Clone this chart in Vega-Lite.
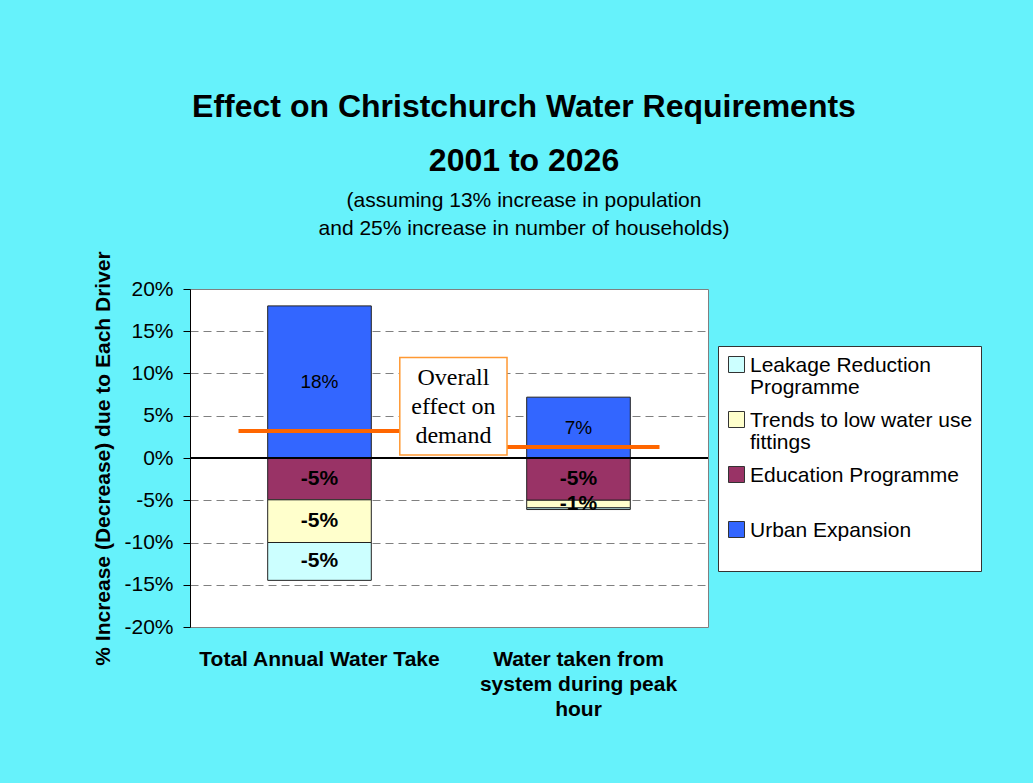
{
  "$schema": "https://vega.github.io/schema/vega-lite/v6.json",
  "width": 518,
  "height": 338,
  "autosize": {"type": "none"},
  "padding": {"left": 190, "top": 289, "right": 325, "bottom": 156},
  "background": "#66f2fb",
  "config": {
    "font": "Liberation Sans",
    "view": {"fill": "white", "stroke": "#808080", "strokeWidth": 1},
    "axis": {"labelFont": "Liberation Sans", "titleFont": "Liberation Sans", "labelColor": "black", "titleColor": "black"},
    "text": {"font": "Liberation Sans"}
  },
  "title": {
    "text": ["Effect on Christchurch Water Requirements", "2001 to 2026"],
    "subtitle": ["(assuming 13% increase in population", "and 25% increase in number of households)"],
    "anchor": "middle",
    "frame": "group",
    "dx": 75,
    "font": "Liberation Sans",
    "fontSize": 32,
    "fontWeight": "bold",
    "color": "black",
    "lineHeight": 54,
    "subtitleFont": "Liberation Sans",
    "subtitleFontSize": 21,
    "subtitleColor": "black",
    "subtitleLineHeight": 28,
    "subtitlePadding": 12,
    "offset": 11
  },
  "datasets": {
    "drivers": [
      {"measure": "Total Annual Water Take", "driver": "Urban Expansion", "value": 0.18, "label": "18%", "k": 1},
      {"measure": "Total Annual Water Take", "driver": "Education Programme", "value": -0.0495, "label": "-5%", "k": 2},
      {"measure": "Total Annual Water Take", "driver": "Trends to low water use fittings", "value": -0.0505, "label": "-5%", "k": 3},
      {"measure": "Total Annual Water Take", "driver": "Leakage Reduction Programme", "value": -0.0448, "label": "-5%", "k": 4},
      {"measure": "Water taken from system during peak hour", "driver": "Urban Expansion", "value": 0.072, "label": "7%", "k": 1},
      {"measure": "Water taken from system during peak hour", "driver": "Education Programme", "value": -0.05, "label": "-5%", "k": 2},
      {"measure": "Water taken from system during peak hour", "driver": "Trends to low water use fittings", "value": -0.009, "label": "-1%", "k": 3},
      {"measure": "Water taken from system during peak hour", "driver": "Leakage Reduction Programme", "value": -0.002, "label": "", "k": 4}
    ],
    "overall": [
      {"measure": "Total Annual Water Take", "overall": 0.032},
      {"measure": "Water taken from system during peak hour", "overall": 0.013}
    ]
  },
  "resolve": {"scale": {"x": "independent"}, "axis": {"x": "independent"}},
  "layer": [
    {
      "data": {"name": "drivers"},
      "transform": [
        {"stack": "value", "groupby": ["measure"], "sort": [{"field": "k", "order": "ascending"}], "as": ["v0", "v1"]},
        {"calculate": "(datum.v0 + datum.v1) / 2", "as": "mid"}
      ],
      "encoding": {
        "x": {
          "field": "measure",
          "type": "nominal",
          "sort": ["Total Annual Water Take", "Water taken from system during peak hour"],
          "scale": {"paddingInner": 0.6, "paddingOuter": 0.3},
          "axis": {
            "title": null,
            "labelAngle": 0,
            "labelFontSize": 21,
            "labelFontWeight": "bold",
            "labelPadding": 21,
            "labelLineHeight": 25,
            "labelLimit": 400,
            "domain": false,
            "ticks": false,
            "grid": false,
            "labelExpr": "datum.value == 'Water taken from system during peak hour' ? ['Water taken from', 'system during peak', 'hour'] : datum.value"
          }
        }
      },
      "layer": [
        {
          "mark": {"type": "bar", "stroke": "#222222", "strokeWidth": 1},
          "encoding": {
            "y": {
              "field": "v0",
              "type": "quantitative",
              "scale": {"domain": [-0.2, 0.2], "nice": false, "zero": false},
              "axis": {
                "title": "% Increase (Decrease) due to Each Driver",
                "titleFontSize": 21,
                "titleFontWeight": "bold",
                "titlePadding": 10,
                "values": [-0.2, -0.15, -0.1, -0.05, 0, 0.05, 0.1, 0.15, 0.2],
                "labelExpr": "round(datum.value * 100) + '%'",
                "labelFontSize": 21,
                "labelPadding": 10,
                "tickSize": 7,
                "tickColor": "black",
                "domainColor": "black",
                "gridColor": "#808080",
                "gridDash": [8, 5],
                "gridWidth": 1
              }
            },
            "y2": {"field": "v1"},
            "color": {
              "field": "driver",
              "type": "nominal",
              "scale": {
                "domain": ["Leakage Reduction Programme", "Trends to low water use fittings", "Education Programme", "Urban Expansion"],
                "range": ["#CCFFFF", "#FFFFCC", "#993366", "#3366FF"]
              },
              "legend": {
                "title": null,
                "orient": "none",
                "legendX": 528,
                "legendY": 57,
                "fillColor": "white",
                "strokeColor": "#333333",
                "padding": 8,
                "labelFont": "Liberation Sans",
                "labelFontSize": 21,
                "labelColor": "black",
                "labelLimit": 400,
                "labelOffset": 3,
                "labelBaseline": "alphabetic",
                "rowPadding": 11,
                "symbolType": "square",
                "symbolSize": 256,
                "symbolStrokeColor": "#333333",
                "symbolStrokeWidth": 1,
                "symbolOpacity": 1,
                "labelExpr": "datum.label == 'Leakage Reduction Programme' ? ['Leakage Reduction', 'Programme'] : datum.label == 'Trends to low water use fittings' ? ['Trends to low water use', 'fittings'] : [datum.label, ' ']",
                "encode": {"labels": {"update": {"lineHeight": {"value": 22}, "dy": {"value": 7}}}}
              }
            },
            "order": {"field": "k"}
          }
        },
        {
          "transform": [{"filter": "datum.value > 0"}],
          "mark": {"type": "text", "fontSize": 19, "color": "black", "baseline": "middle"},
          "encoding": {"y": {"field": "mid", "type": "quantitative"}, "text": {"field": "label"}}
        },
        {
          "transform": [{"filter": "datum.value < 0"}],
          "mark": {"type": "text", "fontSize": 21, "fontWeight": "bold", "color": "black", "baseline": "middle"},
          "encoding": {"y": {"field": "mid", "type": "quantitative"}, "text": {"field": "label"}}
        },
        {
          "mark": {"type": "rule", "color": "black", "strokeWidth": 1.5},
          "encoding": {"y": {"datum": 0, "type": "quantitative"}, "x": null}
        },
        {
          "data": {"name": "overall"},
          "transform": [],
          "mark": {"type": "tick", "color": "#FF6600", "thickness": 4, "size": 162, "opacity": 1},
          "encoding": {"y": {"field": "overall", "type": "quantitative"}}
        }
      ]
    },
    {
      "data": {"values": [{}]},
      "layer": [
        {
          "mark": {"type": "rect", "fill": "white", "stroke": "#FF9933", "strokeWidth": 1.5},
          "encoding": {
            "x": {"datum": 0.81, "type": "quantitative", "scale": {"domain": [0, 2], "nice": false, "zero": false}, "axis": null},
            "x2": {"datum": 1.224},
            "y": {"datum": 0.119, "type": "quantitative"},
            "y2": {"datum": 0.0036}
          }
        },
        {
          "mark": {"type": "text", "font": "Liberation Serif", "fontSize": 24, "lineHeight": 29, "align": "center", "baseline": "middle", "color": "black"},
          "encoding": {
            "x": {"datum": 1.017, "type": "quantitative"},
            "y": {"datum": 0.095, "type": "quantitative"},
            "text": {"value": ["Overall", "effect on", "demand"]}
          }
        }
      ]
    }
  ]
}
